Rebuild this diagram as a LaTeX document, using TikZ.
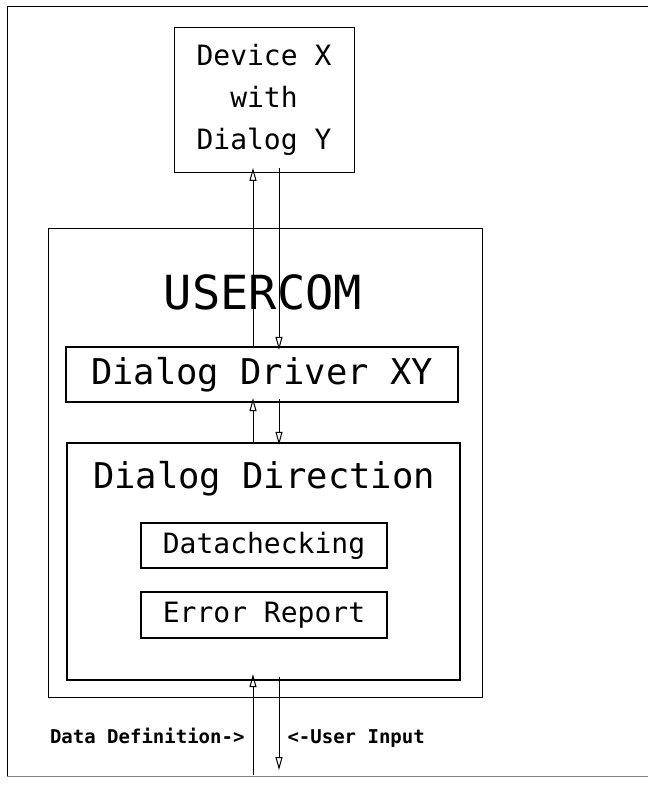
\documentclass[tikz,border=0pt]{standalone}
\usepackage{fontspec}
\usetikzlibrary{arrows.meta}
\newfontfamily\plotfont{DejaVu Sans Mono}

\tikzset{
    box/.style={draw, line width=0.8pt, inner sep=0pt},
    heavybox/.style={draw, line width=2.2pt, inner sep=0pt},
    flow/.style={line width=0.8pt, -{Triangle[open, length=13pt, width=7pt, line width=1pt]}},
}

\begin{document}
\begin{tikzpicture}[x=1pt, y=-1pt, font=\plotfont]
    \useasboundingbox (0,0) rectangle (648,785);
    \draw [line width=0.8pt] (7,776) -- (7,6) -- (660,6);
    \draw [line width=0.5pt, gray] (7,776) -- (660,776);

    % lanes for the two data paths
    \coordinate (lane up) at (253,0);
    \coordinate (lane down) at (279,0);

    \node [box, minimum width=180pt, minimum height=145pt, align=center,
        font=\plotfont\fontsize{28}{42}\selectfont] (device) at (264,100)
        {Device X\\with\\Dialog Y};

    \node [box, minimum width=434pt, minimum height=469pt] (usercom) at (265,462.5) {};
    \node [font=\plotfont\fontsize{47}{50}\selectfont, anchor=base] (usercom title) at (263,309) {USERCOM};

    \node [heavybox, minimum width=392pt, minimum height=55pt,
        font=\plotfont\fontsize{35.5}{40}\selectfont] (driver) at (262,374.5) {Dialog Driver XY};

    \node [heavybox, minimum width=393pt, minimum height=237pt] (direction) at (263.5,561.5) {};
    \node [font=\plotfont\fontsize{35.5}{40}\selectfont, anchor=base] (direction title) at (264,488) {Dialog Direction};

    \node [heavybox, minimum width=246pt, minimum height=45pt,
        font=\plotfont\fontsize{28}{32}\selectfont] (check) at (264,545.5) {Datachecking};
    \node [heavybox, minimum width=246pt, minimum height=46pt,
        font=\plotfont\fontsize{28}{32}\selectfont] (error) at (264,615) {Error Report};

    \coordinate (feed in) at (253,775);
    \coordinate (feed out) at (279,770);

    % up and down between the boxes
    \draw [flow] (driver.north -| lane up) -- ([yshift=5pt]device.south -| lane up);
    \draw [flow] ([yshift=5pt]device.south -| lane down) -- ([yshift=-4pt]driver.north -| lane down);
    \draw [flow] (direction.north -| lane up) -- ([yshift=5pt]driver.south -| lane up);
    \draw [flow] ([yshift=4pt]driver.south -| lane down) -- ([yshift=-3pt]direction.north -| lane down);
    \draw [flow] (feed in) -- ([yshift=7pt]direction.south -| lane up);
    \draw [flow] ([yshift=4pt]direction.south -| lane down) -- (feed out);

    \node [font=\plotfont\bfseries\fontsize{19}{22}\selectfont, anchor=base east] (data def) at (248,743) {Data Definition->};
    \node [font=\plotfont\bfseries\fontsize{19}{22}\selectfont, anchor=base west] (user in) at (284,743) {<-User Input};
\end{tikzpicture}
\end{document}
